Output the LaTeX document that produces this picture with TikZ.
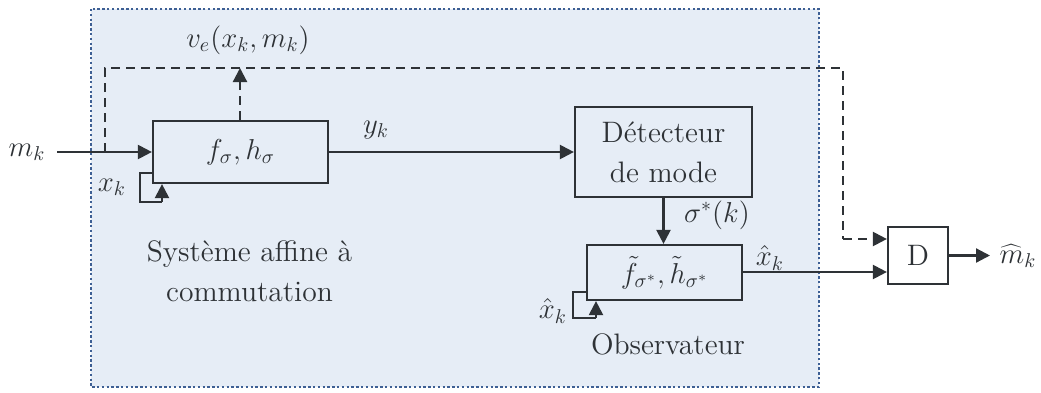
\documentclass[tikz,border=0pt]{standalone}
\usetikzlibrary{arrows.meta}
\definecolor{bgblue}{HTML}{E6EDF6}
\definecolor{dotblue}{HTML}{3D5F94}
\definecolor{ink}{HTML}{2E3236}
\begin{document}
\begin{tikzpicture}[x=0.5pt,y=-0.5pt,
  font=\fontsize{14.8}{20}\selectfont,
  line/.style={draw=ink,line width=1.1pt},
  arr/.style={line,-{Triangle[length=7pt,width=7pt]}},
  dsh/.style={arr,dash pattern=on 4.5pt off 3pt},
  blk/.style={draw=ink,line width=1.1pt,fill=bgblue,inner sep=0pt,text=ink,align=center},
  lbl/.style={text=ink,inner sep=0pt,align=center}]
\useasboundingbox (0,0) rectangle (1041,392);
% background region
\path[fill=bgblue,draw=dotblue,line width=1.4pt,dash pattern=on 1.2pt off 1.2pt]
  (91,9) rectangle (819,387);
% blocks
\node[blk,minimum width=87.5pt,minimum height=31pt] (sys) at (240.5,152) {$f_\sigma, h_\sigma$};
\node[blk,minimum width=88.5pt,minimum height=45pt] (det) at (663.5,152) {D\'etecteur\\de mode};
\node[blk,minimum width=77.5pt,minimum height=27.5pt] (obs) at (664.5,272.5) {$\tilde f_{\sigma^*},\tilde h_{\sigma^*}$};
\node[blk,fill=white,minimum width=30pt,minimum height=28.5pt] (D) at (918,255.5) {D};
% labels
\node[lbl] (mk) at (27,152) {$m_k$};
\node[lbl] (ve) at (248,40) {$v_e(x_k,m_k)$};
\node[lbl] (yk) at (376,130) {$y_k$};
\node[lbl] (xk) at (112,187) {$x_k$};
\node[lbl] (sig) at (717,215) {$\sigma^*(k)$};
\node[lbl] (xh) at (770,258) {$\hat x_k$};
\node[lbl] (xhl) at (553,311) {$\hat x_k$};
\node[lbl] (mh) at (1018,256) {$\widehat m_k$};
\node[lbl] (sa) at (249.5,271) {Syst\`eme affine \`a\\commutation};
\node[lbl] (ob) at (668,344) {Observateur};
% coordinates
\coordinate (mkend) at (57,152);
\coordinate (br) at (105,152);
\coordinate (ctop) at (105,68);
\coordinate (cright) at (843,68);
\coordinate (cdown) at (843,239);
\coordinate (vtop) at (240,68);
% connectors
\draw[arr] (mkend) -- (sys.west |- mkend);
\draw[dsh] (sys.north -| vtop) -- (vtop);
\draw[line,dash pattern=on 4.5pt off 3pt] (br) -- (ctop) -- (cright) -- (cdown);
\draw[dsh] (cdown) -- (cdown -| D.west);
\draw[arr] (sys.east) -- (det.west);
\draw[arr] (det.south) -- (det.south |- obs.north);
\coordinate (oout) at (742,272);
\draw[arr] (oout) -- (oout -| D.west);
\coordinate (Dout) at (990,255.5);
\draw[arr] (D.east) -- (Dout);
% feedback loops
\draw[line] (153,173) -- (140,173) -- (140,202) -- (162,202);
\coordinate (l1) at (162,202);
\draw[arr] (l1) -- (l1 |- sys.south);
\draw[line] (587,292) -- (573,292) -- (573,318) -- (596,318);
\coordinate (l2) at (596,318);
\draw[arr] (l2) -- (l2 |- obs.south);
\end{tikzpicture}
\end{document}
